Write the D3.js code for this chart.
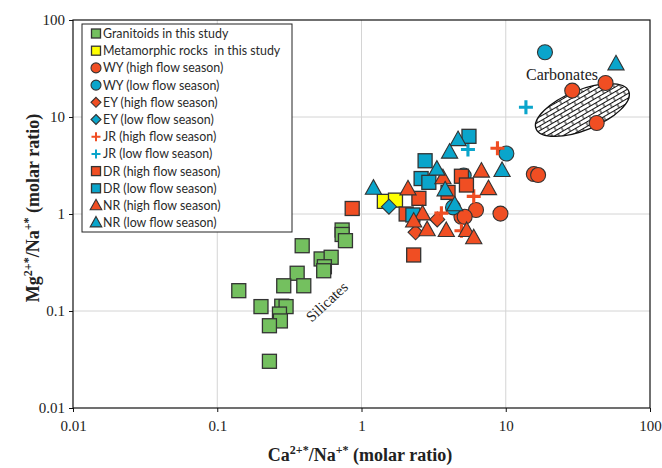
<!DOCTYPE html>
<html>
<head>
<meta charset="utf-8">
<script src="https://cdn.jsdelivr.net/npm/d3@7"></script>
<style>
  body { margin: 0; background: #fff; }
  svg { display: block; }
  text { white-space: pre; }
</style>
</head>
<body>
<script>
// ---- data (x = Ca2+*/Na+*, y = Mg2+*/Na+*) ----
var granitoids = [
  [0.141, 0.162], [0.388, 0.471], [0.734, 0.684], [0.734, 0.615], [0.774, 0.531],
  [0.525, 0.344], [0.616, 0.358], [0.553, 0.286], [0.547, 0.260], [0.358, 0.245],
  [0.289, 0.182], [0.398, 0.182], [0.201, 0.111], [0.280, 0.112], [0.300, 0.111],
  [0.270, 0.093], [0.274, 0.079], [0.230, 0.0705], [0.230, 0.0303]
];
var metamorphic = [[1.44, 1.35], [1.72, 1.39]];
var wyHigh = [[6.22, 1.10], [4.93, 0.936], [5.19, 0.936], [9.19, 1.01], [15.65, 2.58],
  [16.76, 2.52], [28.9, 18.7], [49.2, 22.4], [42.7, 8.68]];
var wyLow = [[18.7, 46.5], [10.1, 4.20], [5.11, 2.49], [4.31, 1.17]];
var eyHigh = [[3.35, 0.878], [2.37, 0.648]];
var eyLow = [[1.55, 1.19]];
var jrHigh = [[8.76, 4.76], [6.0, 1.52], [3.58, 1.02], [4.93, 0.673]];
var jrLow = [[5.47, 4.62], [13.8, 12.6]];
var drHigh = [[0.862, 1.14], [2.30, 0.378], [2.04, 1.0], [2.50, 1.45], [4.93, 2.45],
  [5.34, 1.99], [3.98, 1.67]];
var drLow = [[5.56, 6.32], [2.76, 3.54], [2.59, 2.32], [2.93, 2.12], [2.27, 0.977]];
var nrHigh = [[2.10, 1.81], [3.67, 2.36], [6.78, 2.76], [7.59, 1.82], [2.65, 1.0],
  [2.30, 0.843], [2.85, 0.687], [3.87, 0.673], [5.36, 0.673], [6.0, 0.568]];
var nrLow = [[1.21, 1.84], [4.67, 5.83], [4.08, 4.33], [3.33, 2.89], [9.43, 2.80],
  [3.80, 1.77], [4.43, 1.24], [58.1, 35.2]];

var tickValues = [0.01, 0.1, 1, 10, 100];
var tickLabels = ["0.01", "0.1", "1", "10", "100"];
var carbonateCenter = [34, 11.8]; // ellipse centre, data units

var RED = "#f04e23", BLUE = "#0aa5cb", GREEN = "#74c05f", YELLOW = "#ffff00";

var series = [
  {name: "Granitoids in this study", data: granitoids, shape: "square", color: GREEN},
  {name: "Metamorphic rocks  in this study", data: metamorphic, shape: "square", color: YELLOW},
  {name: "WY (high flow season)", data: wyHigh, shape: "circle", color: RED},
  {name: "WY (low flow season)", data: wyLow, shape: "circle", color: BLUE},
  {name: "EY (high flow season)", data: eyHigh, shape: "diamond", color: RED},
  {name: "EY (low flow season)", data: eyLow, shape: "diamond", color: BLUE},
  {name: "JR (high flow season)", data: jrHigh, shape: "cross", color: RED},
  {name: "JR (low flow season)", data: jrLow, shape: "cross", color: BLUE},
  {name: "DR (high flow season)", data: drHigh, shape: "square", color: RED},
  {name: "DR (low flow season)", data: drLow, shape: "square", color: BLUE},
  {name: "NR (high flow season)", data: nrHigh, shape: "triangle", color: RED},
  {name: "NR (low flow season)", data: nrLow, shape: "triangle", color: BLUE}
];

var width = 662, height = 468;
var pLeft = 73, pRight = 650, pTop = 20, pBottom = 408;

var svg = d3.select("body").append("svg")
  .attr("width", width).attr("height", height);

var x = d3.scaleLog().domain([0.01, 100]).range([pLeft, pRight]);
var y = d3.scaleLog().domain([0.01, 100]).range([pBottom, pTop]);

// brick hatch for carbonate field
var defs = svg.append("defs");
var pat = defs.append("pattern").attr("id", "brick")
  .attr("patternUnits", "userSpaceOnUse").attr("width", 12).attr("height", 8)
  .attr("patternTransform", "rotate(-8)");
pat.append("rect").attr("width", 12).attr("height", 8).attr("fill", "#fff");
pat.append("path")
  .attr("d", "M0,0.5H12M0,4.5H12M3,0.5V4.5M9,4.5V8.5")
  .attr("stroke", "#111").attr("stroke-width", 1).attr("fill", "none");

// grid
var gridVals = [0.1, 1, 10];
svg.append("g").selectAll("line").data(gridVals).enter().append("line")
  .attr("x1", d => x(d)).attr("x2", d => x(d))
  .attr("y1", pTop).attr("y2", pBottom)
  .attr("stroke", "#d4d4d4").attr("stroke-width", 1);
svg.append("g").selectAll("line").data(gridVals).enter().append("line")
  .attr("y1", d => y(d)).attr("y2", d => y(d))
  .attr("x1", pLeft).attr("x2", pRight)
  .attr("stroke", "#d4d4d4").attr("stroke-width", 1);

// axes
var xAxis = d3.axisBottom(x).tickValues(tickValues)
  .tickFormat((d, i) => tickLabels[i]).tickSizeOuter(0).tickSize(4).tickPadding(8);
var yAxis = d3.axisLeft(y).tickValues(tickValues)
  .tickFormat((d, i) => tickLabels[i]).tickSizeOuter(0).tickSize(4).tickPadding(4);

var gx = svg.append("g").attr("transform", "translate(0," + pBottom + ")").call(xAxis);
var gy = svg.append("g").attr("transform", "translate(" + pLeft + ",0)").call(yAxis);
[gx, gy].forEach(function(g){
  g.select(".domain").remove();
  g.selectAll("text").attr("font-family", "Liberation Serif").attr("font-size", 15).attr("fill", "#222");
  g.selectAll("line").attr("stroke", "#111");
});

svg.append("rect").attr("x", pLeft).attr("y", pTop)
  .attr("width", pRight - pLeft).attr("height", pBottom - pTop)
  .attr("fill", "none").attr("stroke", "#111").attr("stroke-width", 1.2);

// carbonate ellipse
var ec = [x(carbonateCenter[0]), y(carbonateCenter[1])];
svg.append("ellipse")
  .attr("cx", 0).attr("cy", 0).attr("rx", 50).attr("ry", 20)
  .attr("transform", "translate(" + ec[0] + "," + ec[1] + ") rotate(-22)")
  .attr("fill", "url(#brick)").attr("stroke", "#111").attr("stroke-width", 1.3);

svg.append("text").attr("x", 562).attr("y", 80)
  .attr("text-anchor", "middle").attr("font-family", "Liberation Serif")
  .attr("font-size", 16).attr("fill", "#222").text("Carbonates");

svg.append("text")
  .attr("transform", "translate(328,303) rotate(-43)")
  .attr("text-anchor", "middle").attr("dominant-baseline", "middle")
  .attr("font-family", "Liberation Serif").attr("font-size", 15).attr("fill", "#222")
  .text("Silicates");

// markers
function drawMarker(g, shape, color, s) {
  if (shape === "square") {
    g.append("rect").attr("x", -s / 2).attr("y", -s / 2).attr("width", s).attr("height", s)
      .attr("fill", color).attr("stroke", "#333").attr("stroke-width", 1.3);
  } else if (shape === "circle") {
    g.append("circle").attr("r", s / 2 + 0.5)
      .attr("fill", color).attr("stroke", "#333").attr("stroke-width", 1.1);
  } else if (shape === "diamond") {
    var h = s / 2 + 0.5;
    g.append("path").attr("d", "M0," + (-h) + "L" + h + ",0L0," + h + "L" + (-h) + ",0Z")
      .attr("fill", color).attr("stroke", "#333").attr("stroke-width", 1.1);
  } else if (shape === "triangle") {
    var w = s * 0.58, t = s * 0.62, b = s * 0.42;
    g.append("path").attr("d", "M0," + (-t) + "L" + w + "," + b + "L" + (-w) + "," + b + "Z")
      .attr("fill", color).attr("stroke", "#333").attr("stroke-width", 1.1);
  } else if (shape === "cross") {
    var c = s / 2;
    g.append("path").attr("d", "M" + (-c) + ",0H" + c + "M0," + (-c) + "V" + c)
      .attr("stroke", color).attr("stroke-width", s / 4.5).attr("fill", "none");
  }
}

series.forEach(function(sr){
  var grp = svg.append("g");
  sr.data.forEach(function(d){
    var g = grp.append("g").attr("transform", "translate(" + x(d[0]) + "," + y(d[1]) + ")");
    drawMarker(g, sr.shape, sr.color, 14);
  });
});

// legend
var lg = svg.append("g").attr("transform", "translate(82,24)");
lg.append("rect").attr("width", 210).attr("height", 208)
  .attr("fill", "#fff").attr("stroke", "#222").attr("stroke-width", 1);
series.forEach(function(sr, i){
  var yy = 9.5 + i * 17.2;
  var g = lg.append("g").attr("transform", "translate(14," + yy + ")");
  drawMarker(g, sr.shape, sr.color, sr.shape === "triangle" ? 10 : 9);
  lg.append("text").attr("x", 21).attr("y", yy).attr("dominant-baseline", "central")
    .attr("font-family", "Lato").attr("font-size", 12.4).attr("fill", "#2a2a2a")
    .text(sr.name);
});

// axis titles
var xt = svg.append("text").attr("x", 360).attr("y", 461).attr("text-anchor", "middle")
  .attr("font-family", "Liberation Serif").attr("font-weight", "bold").attr("font-size", 18)
  .attr("fill", "#222");
xt.append("tspan").text("Ca");
xt.append("tspan").attr("dy", -7).attr("font-size", 12).text("2+*");
xt.append("tspan").attr("dy", 7).text("/Na");
xt.append("tspan").attr("dy", -7).attr("font-size", 12).text("+*");
xt.append("tspan").attr("dy", 7).text(" (molar ratio)");

var yt = svg.append("text").attr("transform", "translate(39,208) rotate(-90)")
  .attr("text-anchor", "middle")
  .attr("font-family", "Liberation Serif").attr("font-weight", "bold").attr("font-size", 18)
  .attr("fill", "#222");
yt.append("tspan").text("Mg");
yt.append("tspan").attr("dy", -7).attr("font-size", 12).text("2+*");
yt.append("tspan").attr("dy", 7).text("/Na");
yt.append("tspan").attr("dy", -7).attr("font-size", 12).text("+*");
yt.append("tspan").attr("dy", 7).text(" (molar ratio)");
</script>
</body>
</html>
